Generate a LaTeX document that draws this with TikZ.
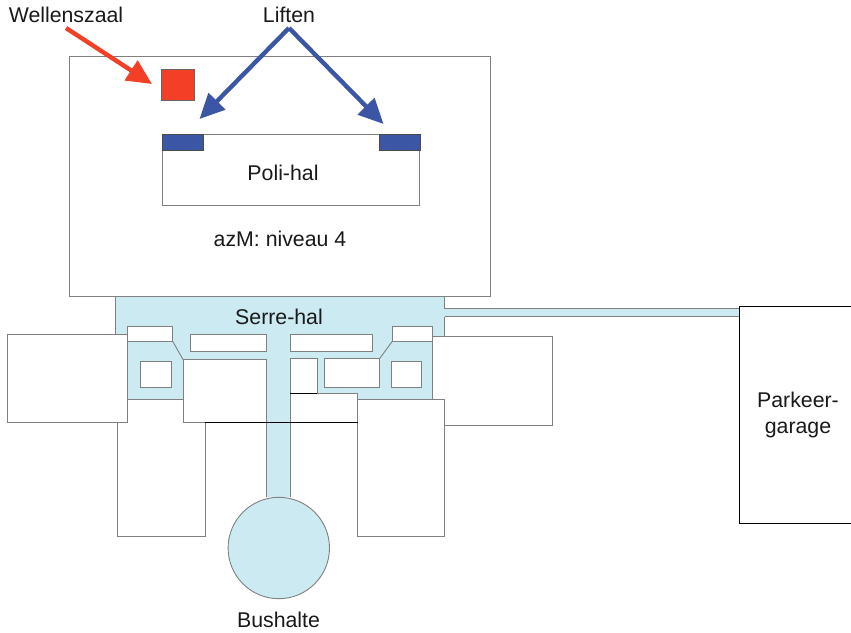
\documentclass[tikz,border=0pt]{standalone}
\usepackage{fontspec}
\setmainfont{Liberation Sans}
\usetikzlibrary{arrows.meta}
\definecolor{halblue}{HTML}{CCEAF2}
\definecolor{liftblue}{HTML}{3B56A5}
\definecolor{zaalred}{HTML}{F43F27}
\definecolor{wallgray}{HTML}{808080}
\tikzset{
	wall/.style={draw=wallgray,line width=0.9pt},
	room/.style={wall,fill=white},
	hal/.style={wall,fill=halblue},
	lbl/.style={font=\fontsize{21.3}{26}\selectfont,inner sep=0pt,text=black!90},
	pointer/.style={line width=4.4pt,-{Triangle[length=25pt,width=23pt]}},
}
\begin{document}
\begin{tikzpicture}[x=1pt,y=-1pt]
	\useasboundingbox (0,0) rectangle (851,632);
	% hoofdgebouw
	\draw[wall] (69.5,56.5) rectangle (490.5,296.5);
	\draw[wall] (162.5,134.5) rectangle (419.5,205.5);
	\draw[draw=black!70,fill=liftblue,line width=0.8pt] (162.5,134.5) rectangle (203,150);
	\draw[draw=black!70,fill=liftblue,line width=0.8pt] (379.5,134.5) rectangle (420,150);
	\draw[draw=black!60,fill=zaalred,line width=0.8pt] (161.5,69.5) rectangle (194,100.5);
	% serre-hal
	\fill[halblue] (115,296.5)--(444.5,296.5)--(444.5,336.5)--(432.7,336.5)--(432.7,399)--(357.7,399)--(357.7,422.3)--(290.3,422.3)--(290.3,497)--(266.3,497)--(266.3,422.3)--(183,422.3)--(183,399)--(127.5,399)--(127.5,334)--(115,334)--cycle;
	\draw[wall] (115,334)--(115,296.5)--(444.5,296.5)--(444.5,308.7) (444.5,316.5)--(444.5,336.5);
	\draw[wall] (266.3,422.3)--(266.3,497) (290.3,422.3)--(290.3,497);
	\fill[halblue] (444,308.7) rectangle (739,316.5);
	\draw[wall] (444.5,308.7)--(739,308.7) (444.5,316.5)--(739,316.5);
	% kamers links
	\draw[room] (7,334) rectangle (127.5,422.3);
	\draw[wall] (117.3,422.3)--(117.3,536)--(205.3,536)--(205.3,422.3);
	\draw[room] (127.5,326.7) rectangle (172.7,341.3);
	\draw[room] (190.3,334.3) rectangle (266.3,351.7);
	\draw[room] (140.5,361.3) rectangle (171,387);
	\draw[room] (183,359.5) rectangle (266.3,422.3);
	\draw[wall] (172.7,341.3)--(183,359.5);
	\draw[wall] (127.5,399)--(183,399);
	% kamers rechts
	\draw[room] (432.7,336.7) rectangle (552.7,425.3);
	\draw[room] (357.7,399) rectangle (444.7,536);
	\draw[room] (392.3,326.7) rectangle (432.7,341.3);
	\draw[room] (290.3,334.3) rectangle (372.7,351.7);
	\draw[room] (290.3,358.5) rectangle (317,393.5);
	\draw[room] (324,358.5) rectangle (379.7,387);
	\draw[room] (391.3,361.3) rectangle (421.7,387);
	\draw[room] (290.3,393.5) rectangle (357.7,422.3);
	\draw[wall] (392.3,341.3)--(379.7,358.5);
	\draw[black,line width=0.9pt] (290.3,393.5)--(317,393.5) (205.3,422.3)--(357.7,422.3);
	% bushalte, garage
	\draw[hal] (278.8,548) circle (50.7);
	\draw[draw=black,fill=white,line width=0.9pt] (739,306)--(851,306)--(851,523)--(739,523)--cycle;
	% teksten
	\node[lbl] (wellenszaal) at (66,15) {Wellenszaal};
	\node[lbl] (liften) at (289,15) {Liften};
	\node[lbl] (polihal) at (283,173) {Poli-hal};
	\node[lbl] (niveau) at (280,239) {azM: niveau 4};
	\node[lbl] (serrehal) at (279,317) {Serre-hal};
	\node[lbl,align=center] (garage) at (798,415) {Parkeer-\\garage};
	\node[lbl] (bushalte) at (278.5,620) {Bushalte};
	% pijlen
	\coordinate (wstart) at (66,28);
	\coordinate (wtip) at (152,84);
	\coordinate (lstart) at (289,28);
	\coordinate (ltipa) at (199.5,119);
	\coordinate (ltipb) at (383.5,124);
	\draw[pointer,zaalred] (wstart)--(wtip);
	\draw[pointer,liftblue] (lstart)--(ltipa);
	\draw[pointer,liftblue] (lstart)--(ltipb);
\end{tikzpicture}
\end{document}
